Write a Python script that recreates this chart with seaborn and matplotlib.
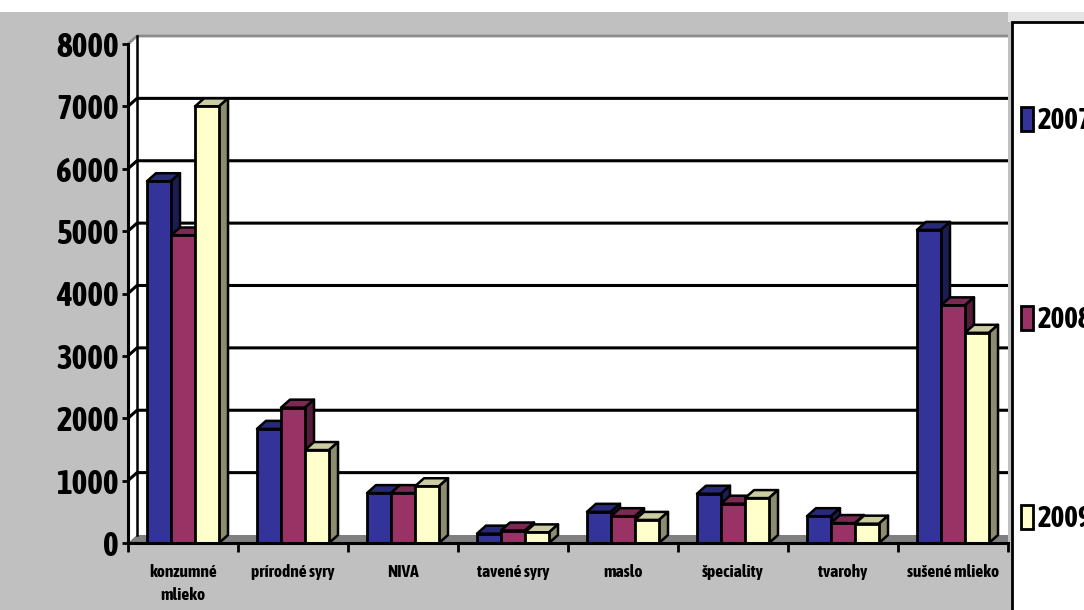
import matplotlib
matplotlib.use("Agg")
import matplotlib.pyplot as plt
import numpy as np
import pandas as pd
import seaborn as sns
from matplotlib import font_manager
from matplotlib.patches import Polygon, Rectangle, Patch
from matplotlib.colors import to_rgb

# --- data -------------------------------------------------------------
categories = ["konzumné\nmlieko", "prírodné syry", "NIVA", "tavené syry",
              "maslo", "špeciality", "tvarohy", "sušené mlieko"]
years = ["2007", "2008", "2009"]
v2007 = [5800, 1830, 800, 150, 500, 790, 430, 5020]
v2008 = [4930, 2170, 800, 200, 430, 630, 320, 3810]
v2009 = [7000, 1490, 910, 170, 370, 720, 310, 3370]
ytick_values = list(range(0, 8001, 1000))

colors = ["#333399", "#993366", "#FFFFCC"]

df = pd.DataFrame({
    "kategoria": categories * 3,
    "rok": [y for y in years for _ in categories],
    "objem": v2007 + v2008 + v2009,
})


# --- fonts: prefer a bold narrow sans if one is installed ---------------
def _w(f):
    w = f.weight
    if isinstance(w, str):
        w = {"bold": 700, "normal": 400, "regular": 400}.get(w.lower(), 400)
    return w


cands = [f for f in font_manager.fontManager.ttflist
         if ("Narrow" in f.name or "Condensed" in f.name)
         and "DejaVu" not in f.name and f.style == "normal"]
if cands:
    best = min(cands, key=lambda f: (abs(_w(f) - 700), f.name))
    base, weight = best.name, _w(best)
    ysize, xsize, lsize = 24, 12.5, 21
else:
    base, weight = "Liberation Sans", 700
    ysize, xsize, lsize = 21, 10.5, 17
plt.rcParams["font.family"] = [base, "DejaVu Sans"]
plt.rcParams["font.weight"] = weight

# --- figure -----------------------------------------------------------
W, H = 1084, 610
fig = plt.figure(figsize=(W / 100, H / 100), dpi=100, facecolor="#c0c0c0")


def fx(px):
    return px / W


def fy(py):
    return 1 - py / H


# white strip along the top and the light band above the legend
fig.add_artist(Rectangle((0, fy(12)), 1, 1, transform=fig.transFigure,
                         facecolor="white", edgecolor="none", zorder=0))
fig.add_artist(Rectangle((fx(1008), fy(22)), 1, fy(12) - fy(22),
                         transform=fig.transFigure, facecolor="#e4e4e4",
                         edgecolor="none", zorder=0))

ax = fig.add_axes([fx(128), fy(543), fx(1008) - fx(128), fy(44) - fy(543)])
ax.set_facecolor("none")

sns.barplot(data=df, x="kategoria", y="objem", hue="rok", palette=colors,
            width=0.655, saturation=1, edgecolor="black", linewidth=2.0,
            legend=False, ax=ax, zorder=3)
bars = list(ax.patches)

ax.set_xlim(-0.5, len(categories) - 0.5)
ax.set_ylim(0, 8000)

# depth of the pseudo-3D look, in pixels, converted to data units
DX, DY = 9, 8
xspan = len(categories)
dxd = DX * xspan / ax.bbox.width
dyd = DY * 8000 / ax.bbox.height
x_left, x_right = -0.5, len(categories) - 0.5

# back wall, left wall and floor
ax.add_patch(Rectangle((x_left + dxd, dyd), x_right - x_left - dxd, 8000,
                       facecolor="white", edgecolor="none", zorder=0.5,
                       clip_on=False))
ax.add_patch(Polygon([(x_left, 0), (x_left, 8000), (x_left + dxd, 8000 + dyd),
                      (x_left + dxd, dyd)], closed=True, facecolor="white",
                     edgecolor="none", zorder=0.6, clip_on=False))
ax.add_patch(Polygon([(x_left, 0), (x_right, 0), (x_right, dyd),
                      (x_left + dxd, dyd)], closed=True, facecolor="#808080",
                     edgecolor="none", zorder=1.2, clip_on=False))
ax.plot([x_left, x_left + dxd, x_right], [8000, 8000 + dyd, 8000 + dyd],
        color="#8c8c8c", lw=2.0, zorder=1.3, clip_on=False,
        solid_capstyle="butt")
ax.plot([x_left + dxd, x_left + dxd], [dyd, 8000 + dyd], color="black",
        lw=1.8, zorder=1.3, clip_on=False)

# gridlines on the back wall
for v in ytick_values[1:-1]:
    ax.plot([x_left, x_left + dxd, x_right], [v, v + dyd, v + dyd],
            color="black", lw=2.2, zorder=1.5, clip_on=False,
            solid_capstyle="butt")


def shade(c, f):
    r, g, b = to_rgb(c)
    return (r * f, g * f, b * f)


# tops and sides of the columns
order = sorted(range(len(bars)), key=lambda i: bars[i].get_x())
for rank, i in enumerate(order):
    p = bars[i]
    x0, w, h = p.get_x(), p.get_width(), p.get_height()
    fc = p.get_facecolor()
    z = 2.0 + 0.001 * rank
    ax.add_patch(Polygon([(x0, h), (x0 + w, h), (x0 + w + dxd, h + dyd),
                          (x0 + dxd, h + dyd)], closed=True,
                         facecolor=shade(fc, 0.8), edgecolor="black",
                         lw=1.8, zorder=z, clip_on=False, joinstyle="round"))
    ax.add_patch(Polygon([(x0 + w, 0), (x0 + w + dxd, dyd),
                          (x0 + w + dxd, h + dyd), (x0 + w, h)], closed=True,
                         facecolor=shade(fc, 0.55), edgecolor="black",
                         lw=1.8, zorder=z, clip_on=False, joinstyle="round"))

# axes styling
for s in ["top", "right"]:
    ax.spines[s].set_visible(False)
for s in ["left", "bottom"]:
    ax.spines[s].set_color("black")
    ax.spines[s].set_linewidth(2.2)
    ax.spines[s].set_zorder(4)

ax.set_yticks(ytick_values)
ax.set_yticklabels([str(v) for v in ytick_values])
ax.tick_params(axis="y", direction="out", length=4.5, width=2, pad=2,
               labelsize=ysize, colors="black")
ax.set_xticks(range(len(categories)))
ax.set_xticklabels(categories)
ax.set_xticks(np.arange(-0.5, len(categories), 1.0), minor=True)
ax.tick_params(axis="x", which="major", length=0, pad=15, labelsize=xsize)
ax.tick_params(axis="x", which="minor", direction="out", length=6.5, width=2)
for t in ax.get_xticklabels():
    t.set_linespacing(1.55)
for t in ax.get_yticklabels() + ax.get_xticklabels():
    t.set_fontweight(weight)
ax.set_xlabel("")
ax.set_ylabel("")

# legend panel on the right
fig.add_artist(Rectangle((fx(1012), -0.2), 1, fy(22) + 0.2,
                         transform=fig.transFigure, facecolor="white",
                         edgecolor="black", lw=2, zorder=1))
handles = [Patch(facecolor=c, edgecolor="black", lw=2) for c in colors]
lfs_px = lsize * 100 / 72
leg = fig.legend(handles, years, loc="upper left",
                 bbox_to_anchor=(fx(1021), fy(106)), frameon=False,
                 prop={"family": [base, "DejaVu Sans"], "weight": weight,
                       "size": lsize},
                 borderpad=0, borderaxespad=0, handlelength=12 / lfs_px,
                 handleheight=26 / lfs_px, handletextpad=5 / lfs_px,
                 labelspacing=(205 - 1.2 * lfs_px) / lfs_px)
leg.set_zorder(5)

fig.savefig("out.png", dpi=100, facecolor=fig.get_facecolor())
